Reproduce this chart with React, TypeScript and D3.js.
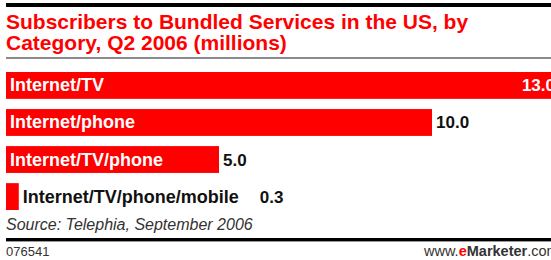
import React from "react";
import * as d3 from "d3";

const categories = [
  "Internet/TV",
  "Internet/phone",
  "Internet/TV/phone",
  "Internet/TV/phone/mobile",
];
const values = [13.0, 10.0, 5.0, 0.3];
const titleLines = [
  "Subscribers to Bundled Services in the US, by",
  "Category, Q2 2006 (millions)",
];
const source = "Source: Telephia, September 2006";
const chartId = "076541";

const W = 551;
const H = 260;
const RED = "#ff0000";
const FONT = "'Liberation Sans', Arial, sans-serif";

export default function App() {
  const left = 6;
  const x = d3.scaleLinear().domain([0, 10]).range([left, left + 426]);
  const y = d3
    .scaleBand()
    .domain(categories)
    .range([72, 72 + 34.5 * categories.length])
    .paddingInner(0.275)
    .paddingOuter(0);
  const bw = y.bandwidth();

  return (
    <svg
      width={W}
      height={H}
      style={{ position: "absolute", left: 0, top: 0, background: "#fff" }}
      fontFamily={FONT}
    >
      <rect x={0} y={0} width={W} height={H} fill="#fff" />
      <rect x={left} y={3} width={W - left} height={4} fill="#000" />
      {titleLines.map((t, i) => (
        <text
          key={i}
          x={left}
          y={29 + i * 20.5}
          fill={RED}
          fontSize={21}
          fontWeight="bold"
        >
          {t}
        </text>
      ))}
      <rect x={left} y={57} width={W - left} height={2} fill="#8a8a8a" />

      <g>
        {categories.map((c, i) => {
          const v = values[i];
          const x1 = x(v);
          const yy = y(c)!;
          const cy = yy + bw / 2 + 6;
          const labelInside = x1 - left > 180;
          const valueInside = x1 > W - 40;
          return (
            <g key={c}>
              <rect x={left} y={yy} width={x1 - left} height={bw} fill={RED} />
              {labelInside ? (
                <text
                  x={left + 4}
                  y={cy}
                  fill="#fff"
                  fontSize={18}
                  fontWeight="bold"
                >
                  {c}
                </text>
              ) : (
                <text x={x1 + 4} y={cy} fill="#111" fontSize={18} fontWeight="bold">
                  {c}
                  <tspan dx={21} fontSize={17}>
                    {v.toFixed(1)}
                  </tspan>
                </text>
              )}
              {labelInside &&
                (valueInside ? (
                  <text
                    x={Math.min(x1, W + 8) - 4}
                    y={cy}
                    fill="#fff"
                    fontSize={17}
                    fontWeight="bold"
                    textAnchor="end"
                  >
                    {v.toFixed(1)}
                  </text>
                ) : (
                  <text
                    x={x1 + 4}
                    y={cy}
                    fill="#111"
                    fontSize={17}
                    fontWeight="bold"
                  >
                    {v.toFixed(1)}
                  </text>
                ))}
            </g>
          );
        })}
      </g>

      <text x={left} y={230} fill="#333" fontSize={16} fontStyle="italic">
        {source}
      </text>
      <rect x={left} y={238} width={W - left} height={3} fill="#000" />
      <rect x={left} y={241} width={W - left} height={1} fill="#999" />
      <text x={left} y={256} fill="#333" fontSize={13}>
        {chartId}
      </text>
      <text x={424} y={256} fill="#333" fontSize={14.5}>
        www.
        <tspan fill={RED} fontWeight="bold">
          e
        </tspan>
        <tspan fontWeight="bold">Marketer</tspan>
        .com
      </text>
    </svg>
  );
}
